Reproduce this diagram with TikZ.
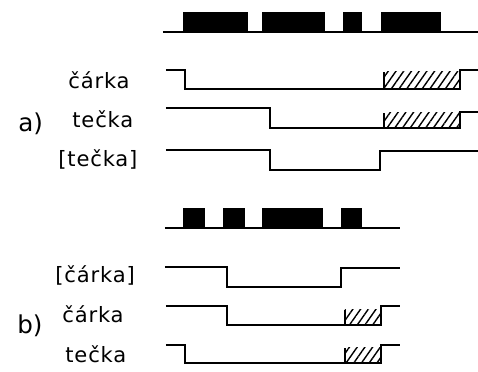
\documentclass[tikz,border=0pt]{standalone}
\usepackage{fontspec}
\newfontfamily\lblfont{DejaVu Sans}[LetterSpace=4]
\newfontfamily\partfont{DejaVu Sans}
\usetikzlibrary{patterns.meta}
\tikzset{
  sig/.style={line width=1.1pt, line join=miter},
  pulse/.style={fill=black},
  hatchbox/.style={pattern={Lines[angle=55,distance=3.6pt,line width=0.8pt]}},
  lbl/.style={anchor=base west, inner sep=0pt, font=\lblfont\fontsize{12pt}{14pt}\selectfont},
  part/.style={anchor=base west, inner sep=0pt, font=\partfont\fontsize{14pt}{17pt}\selectfont}
}
\begin{document}
\begin{tikzpicture}[x=0.02cm,y=-0.02cm]
\useasboundingbox (0,0) rectangle (478,372);

% a)
\draw [sig] (163,32) -- (478,32);
\fill [pulse] (183,12) rectangle (248,32);
\fill [pulse] (262,12) rectangle (325,32);
\fill [pulse] (343,12) rectangle (362,32);
\fill [pulse] (381,12) rectangle (441,32);

\node (partA) at (18,132) [part] {a)};
\node (carkaA) at (68,89) [lbl] {čárka};
\node (teckaA) at (72,128) [lbl] {tečka};
\node (nteckaA) at (58,167) [lbl] {[tečka]};

\fill [hatchbox] (384,72) rectangle (460,89);
\draw [sig] (166,70) -- (185,70) -- (185,89) -- (460,89) -- (460,70) -- (478,70);
\draw [sig] (384,89) -- (384,72);
\fill [hatchbox] (384,113) rectangle (460,128);
\draw [sig] (166,108) -- (270,108) -- (270,128) -- (460,128) -- (460,112) -- (478,112);
\draw [sig] (384,128) -- (384,113);
\draw [sig] (166,150) -- (270,150) -- (270,170) -- (380,170) -- (380,151) -- (478,151);

% b)
\draw [sig] (165,228) -- (400,228);
\fill [pulse] (183,208) rectangle (205,228);
\fill [pulse] (223,208) rectangle (245,228);
\fill [pulse] (262,208) rectangle (323,228);
\fill [pulse] (341,208) rectangle (362,228);

\node (partB) at (17,334) [part] {b)};
\node (ncarkaB) at (55,283) [lbl] {[čárka]};
\node (carkaB) at (62,323) [lbl] {čárka};
\node (teckaB) at (65,363) [lbl] {tečka};

\draw [sig] (165,267) -- (227,267) -- (227,287) -- (341,287) -- (341,268) -- (400,268);
\fill [hatchbox] (345,310) rectangle (381,325);
\draw [sig] (166,306) -- (227,306) -- (227,325) -- (381,325) -- (381,306) -- (400,306);
\draw [sig] (345,325) -- (345,310);
\fill [hatchbox] (345,348) rectangle (381,363);
\draw [sig] (166,345) -- (185,345) -- (185,363) -- (381,363) -- (381,345) -- (400,345);
\draw [sig] (345,363) -- (345,348);
\end{tikzpicture}
\end{document}
